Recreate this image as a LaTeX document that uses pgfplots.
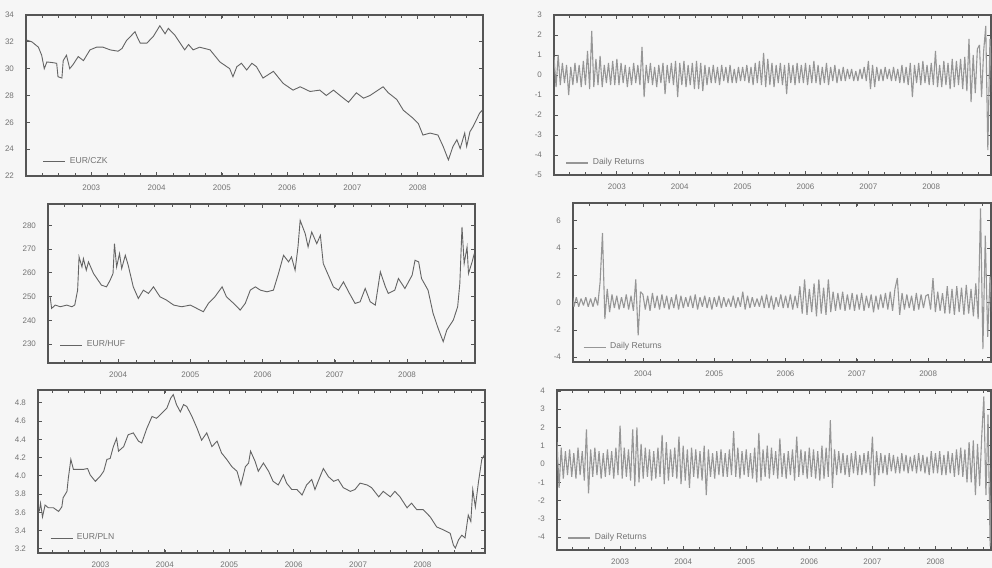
\documentclass[border=0pt]{standalone}
\usepackage{fontspec}
\setmainfont{Liberation Sans}
\usepackage{pgfplots}
\pgfplotsset{compat=1.18}

\definecolor{bgc}{RGB}{246,246,246}
\definecolor{axc}{RGB}{85,85,85}
\definecolor{lvl}{RGB}{100,100,100}
\definecolor{ret}{RGB}{150,150,150}
\definecolor{txtc}{RGB}{115,115,115}

\pgfplotsset{
  panel/.style={
    scale only axis,
    axis line style={axc, line width=0.7pt},
    tick style={axc, line width=0.4pt},
    major tick length=2.2pt,
    minor tick length=1.6pt,
    xtick={2003,...,2008},
    minor xtick={2002,2002.25,...,2009},
    tick label style={font=\fontsize{4}{4}\selectfont, text=txtc},
    yticklabel style={xshift=-2.5pt},
    xticklabel style={yshift=-1pt},
    /pgf/number format/assume math mode=true,
    x tick label style={/pgf/number format/1000 sep={}},
    legend style={draw=none, fill=none, font=\fontsize{4.3}{5}\selectfont,
      text=txtc, anchor=west, inner sep=0pt, outer sep=0pt},
    legend image code/.code={\draw[##1] (0pt,0pt) -- (11pt,0pt);},
    legend cell align=left,
  },
  lvlline/.style={lvl, line width=0.45pt, mark=none},
  retline/.style={ret, line width=0.55pt, mark=none, line join=bevel},
}

\begin{document}
\begin{tikzpicture}
\fill[bgc] (0,0) rectangle (496pt,284pt);
\path[use as bounding box] (0,0) rectangle (496pt,284pt);

% ---- EUR/CZK level
\begin{axis}[panel, at={(13pt,196pt)}, anchor=south west,
  width=228.5pt, height=80.5pt,
  xmin=2002, xmax=2009, ymin=22, ymax=34,
  ytick={22,24,...,34},
  legend style={at={(axis description cs:0.037,0.09)}}]
\addplot[lvlline] table {
2002.01 32.13
2002.09 32.0
2002.19 31.6
2002.24 31.0
2002.28 30.0
2002.32 30.5
2002.41 30.45
2002.47 30.4
2002.49 29.4
2002.55 29.3
2002.57 30.6
2002.62 31.0
2002.67 30.0
2002.72 30.3
2002.80 30.9
2002.88 30.6
2002.98 31.4
2003.08 31.6
2003.18 31.6
2003.29 31.4
2003.41 31.3
2003.47 31.5
2003.54 32.1
2003.67 32.75
2003.70 32.4
2003.75 31.9
2003.85 31.9
2003.95 32.4
2004.05 33.2
2004.13 32.6
2004.18 33.0
2004.28 32.5
2004.43 31.4
2004.49 31.8
2004.56 31.4
2004.66 31.6
2004.82 31.4
2004.97 30.5
2005.12 30.0
2005.17 29.4
2005.23 30.15
2005.30 30.4
2005.38 29.9
2005.46 30.4
2005.53 30.15
2005.63 29.3
2005.79 29.8
2005.94 28.9
2006.09 28.4
2006.20 28.65
2006.35 28.3
2006.50 28.4
2006.60 28.0
2006.71 28.4
2006.81 28.0
2006.94 27.5
2007.06 28.2
2007.17 27.8
2007.27 28.0
2007.47 28.65
2007.55 28.2
2007.68 27.7
2007.78 26.9
2007.93 26.3
2008.01 25.9
2008.08 25.05
2008.19 25.2
2008.31 25.05
2008.39 24.2
2008.47 23.2
2008.54 24.2
2008.60 24.7
2008.65 24.05
2008.72 25.2
2008.75 24.2
2008.80 25.3
2008.85 25.7
2008.95 26.7
2008.99 26.9
};
\addlegendentry{EUR/CZK}
\end{axis}

% ---- EUR/HUF level
\begin{axis}[panel, at={(24pt,102.5pt)}, anchor=south west,
  width=213.5pt, height=79.5pt,
  xmin=2003.03, xmax=2008.94, ymin=222, ymax=289,
  xtick={2004,...,2008},
  ytick={230,240,...,280},
  legend style={at={(axis description cs:0.028,0.113)}}]
\addplot[lvlline] table {
2003.06 249.9
2003.08 245.0
2003.13 246.4
2003.20 245.7
2003.29 246.4
2003.36 245.7
2003.40 246.4
2003.44 252.7
2003.46 266.7
2003.50 262.5
2003.52 266.0
2003.56 261.1
2003.59 264.6
2003.66 259.7
2003.77 254.8
2003.84 254.1
2003.89 256.9
2003.93 259.7
2003.95 272.3
2003.98 262.5
2004.02 268.1
2004.05 261.8
2004.10 267.4
2004.14 263.2
2004.21 254.1
2004.28 249.2
2004.35 252.7
2004.42 251.3
2004.49 254.1
2004.58 249.9
2004.67 248.5
2004.77 246.4
2004.88 245.7
2005.00 246.4
2005.09 245.0
2005.18 243.6
2005.25 247.1
2005.34 249.9
2005.44 254.1
2005.50 249.9
2005.60 247.1
2005.69 244.3
2005.76 247.1
2005.83 252.7
2005.90 254.1
2005.97 252.7
2006.06 252.0
2006.15 252.7
2006.22 259.7
2006.29 267.4
2006.36 264.6
2006.40 266.7
2006.45 261.1
2006.49 270.9
2006.52 282.1
2006.59 276.5
2006.63 270.9
2006.68 277.2
2006.75 272.3
2006.80 275.8
2006.84 263.9
2006.91 259.0
2006.98 254.1
2007.05 252.7
2007.12 256.2
2007.19 252.0
2007.28 247.1
2007.35 247.8
2007.42 253.4
2007.49 247.8
2007.56 246.4
2007.63 260.4
2007.70 254.1
2007.74 251.3
2007.83 252.7
2007.88 257.6
2007.97 253.4
2008.07 259.0
2008.11 265.3
2008.16 264.6
2008.20 257.6
2008.29 252.7
2008.36 242.9
2008.43 236.6
2008.50 231.0
2008.55 235.9
2008.64 240.1
2008.70 245.7
2008.73 255.5
2008.76 279.3
2008.79 263.9
2008.83 270.9
2008.85 259.7
2008.90 264.6
2008.93 268.1
};
\addlegendentry{EUR/HUF}
\end{axis}

% ---- EUR/PLN level
\begin{axis}[panel, at={(19pt,7.5pt)}, anchor=south west,
  width=223.5pt, height=81.5pt,
  xmin=2002.03, xmax=2008.97, ymin=3.155, ymax=4.94,
  ytick={3.2,3.4,3.6,3.8,4.0,4.2,4.4,4.6,4.8},
  y tick label style={/pgf/number format/.cd, fixed, fixed zerofill, precision=1},
  legend style={at={(axis description cs:0.027,0.092)}}]
\addplot[lvlline] table {
2002.05 3.61
2002.07 3.70
2002.10 3.55
2002.14 3.68
2002.19 3.65
2002.27 3.65
2002.35 3.61
2002.40 3.66
2002.42 3.76
2002.48 3.83
2002.50 3.97
2002.54 4.18
2002.58 4.07
2002.66 4.07
2002.73 4.07
2002.80 4.08
2002.84 4.01
2002.92 3.94
2002.99 3.99
2003.05 4.05
2003.10 4.18
2003.15 4.19
2003.20 4.32
2003.25 4.41
2003.28 4.27
2003.36 4.32
2003.43 4.45
2003.51 4.47
2003.59 4.38
2003.64 4.36
2003.72 4.52
2003.80 4.65
2003.87 4.63
2003.93 4.67
2004.03 4.74
2004.09 4.85
2004.13 4.89
2004.18 4.78
2004.24 4.70
2004.29 4.78
2004.34 4.76
2004.42 4.65
2004.50 4.52
2004.57 4.39
2004.65 4.47
2004.73 4.32
2004.81 4.38
2004.88 4.25
2004.96 4.18
2005.04 4.10
2005.12 4.05
2005.18 3.90
2005.25 4.10
2005.30 4.14
2005.33 4.27
2005.40 4.16
2005.45 4.05
2005.53 4.14
2005.61 4.05
2005.68 3.94
2005.76 3.90
2005.84 4.01
2005.89 3.92
2005.97 3.85
2006.05 3.85
2006.13 3.79
2006.20 3.90
2006.28 3.96
2006.33 3.85
2006.38 3.94
2006.46 4.08
2006.54 3.99
2006.62 3.94
2006.69 3.96
2006.77 3.87
2006.88 3.83
2006.95 3.85
2007.03 3.92
2007.14 3.90
2007.21 3.87
2007.32 3.77
2007.39 3.83
2007.50 3.77
2007.57 3.83
2007.65 3.77
2007.76 3.65
2007.83 3.70
2007.91 3.63
2008.01 3.63
2008.12 3.55
2008.22 3.44
2008.32 3.41
2008.43 3.37
2008.48 3.24
2008.51 3.21
2008.56 3.30
2008.61 3.35
2008.66 3.32
2008.71 3.57
2008.75 3.50
2008.78 3.85
2008.82 3.66
2008.87 3.94
2008.92 4.18
2008.96 4.23
};
\addlegendentry{EUR/PLN}
\end{axis}

% ---- EUR/CZK daily returns
\begin{axis}[panel, at={(277pt,196.5pt)}, anchor=south west,
  width=218.5pt, height=80pt,
  xmin=2002, xmax=2008.95, ymin=-5, ymax=3,
  ytick={-5,-4,...,3},
  legend style={at={(axis description cs:0.027,0.075)}}]
\addplot[retline] table[header=false, row sep=\\, x expr=2002+\coordindex/30, y index=0] {
0.9\\-0.6\\1.0\\-0.5\\0.6\\-0.4\\0.5\\-1.0\\0.4\\-0.5\\0.6\\-0.4\\0.5\\-0.6\\0.7\\-0.5\\1.2\\-0.7\\2.2\\-0.6\\0.8\\-0.5\\0.95\\-0.6\\0.5\\-0.4\\0.6\\-0.5\\0.7\\-0.5\\
0.8\\-0.5\\0.6\\-0.4\\0.5\\-0.6\\0.4\\-0.5\\0.6\\-0.4\\0.5\\-0.5\\1.4\\-1.1\\0.5\\-0.4\\0.6\\-0.5\\0.4\\-0.6\\0.5\\-0.4\\0.6\\-0.95\\0.5\\-0.4\\0.6\\-0.5\\0.7\\-1.1\\
0.6\\-0.5\\0.7\\-0.6\\0.5\\-0.5\\0.6\\-0.7\\0.7\\-0.7\\0.6\\-0.8\\0.5\\-0.5\\0.4\\-0.4\\0.5\\-0.4\\0.4\\-0.5\\0.5\\-0.3\\0.4\\-0.4\\0.5\\-0.4\\0.3\\-0.4\\0.4\\-0.3\\
0.4\\-0.3\\0.5\\-0.4\\0.4\\-0.5\\0.6\\-0.4\\0.7\\-0.5\\1.1\\-0.6\\0.8\\-0.5\\0.6\\-0.6\\0.5\\-0.4\\0.6\\-0.5\\0.5\\-0.95\\0.6\\-0.4\\0.5\\-0.5\\0.6\\-0.4\\0.5\\-0.4\\
0.6\\-0.5\\0.5\\-0.4\\0.7\\-0.4\\0.5\\-0.5\\0.4\\-0.4\\0.6\\-0.5\\0.4\\-0.3\\0.5\\-0.4\\0.3\\-0.3\\0.4\\-0.3\\0.3\\-0.2\\0.3\\-0.3\\0.2\\-0.3\\0.3\\-0.2\\0.4\\-0.3\\
0.7\\-0.7\\0.5\\-0.6\\0.4\\-0.3\\0.3\\-0.3\\0.4\\-0.2\\0.3\\-0.3\\0.4\\-0.3\\0.3\\-0.4\\0.5\\-0.4\\0.4\\-0.5\\0.6\\-1.1\\0.5\\-0.4\\0.6\\-0.5\\0.7\\-0.4\\0.5\\-0.5\\
0.6\\-0.5\\1.2\\-0.6\\0.5\\-0.6\\0.7\\-0.5\\0.6\\-0.7\\0.8\\-0.6\\0.7\\-0.5\\0.8\\-0.7\\0.9\\-0.8\\1.8\\-1.35\\1.0\\-0.9\\1.3\\1.5\\-1.1\\1.2\\2.45\\-3.75\\1.8\\-1.2\\0.8\\
};
\addlegendentry{Daily Returns}
\end{axis}

% ---- EUR/HUF daily returns
\begin{axis}[panel, at={(286.5pt,103pt)}, anchor=south west,
  width=209pt, height=79.5pt,
  xmin=2003.02, xmax=2008.88, ymin=-4.35, ymax=7.3,
  xtick={2004,...,2008},
  ytick={-4,-2,...,6},
  legend style={at={(axis description cs:0.024,0.094)}}]
\addplot[retline] table[header=false, row sep=\\, x expr=2003+\coordindex/30, y index=0] {
0.9\\-0.3\\0.4\\-0.3\\0.3\\-0.2\\0.4\\-0.3\\0.3\\-0.3\\0.4\\-0.2\\1.5\\5.1\\-1.2\\1.0\\-0.7\\0.6\\-0.4\\0.5\\-0.5\\0.4\\-0.4\\0.6\\-0.5\\0.5\\-0.6\\1.7\\-2.4\\0.8\\
0.6\\-0.5\\0.5\\-0.6\\0.7\\-0.4\\0.5\\-0.5\\0.6\\-0.4\\0.5\\-0.5\\0.4\\-0.4\\0.6\\-0.5\\0.5\\-0.4\\0.4\\-0.3\\0.5\\-0.4\\0.6\\-0.5\\0.4\\-0.3\\0.5\\-0.4\\0.4\\-0.5\\
0.4\\-0.3\\0.5\\-0.4\\0.4\\-0.3\\0.3\\-0.3\\0.5\\-0.4\\0.4\\-0.3\\0.8\\-0.5\\0.5\\-0.4\\0.4\\-0.3\\0.3\\-0.3\\0.5\\-0.4\\0.6\\-0.4\\0.5\\-0.5\\0.4\\-0.3\\0.6\\-0.4\\
0.5\\-0.4\\0.6\\-0.5\\0.5\\-0.4\\1.2\\-0.8\\1.7\\-0.9\\1.0\\-0.7\\1.4\\-1.0\\1.7\\-0.8\\1.1\\-0.9\\1.7\\-0.7\\0.8\\-0.6\\0.7\\-0.5\\0.8\\-0.6\\0.6\\-0.5\\0.7\\-0.6\\
0.6\\-0.5\\0.7\\-0.6\\0.5\\-0.4\\0.6\\-0.7\\0.5\\-0.5\\0.6\\-0.4\\0.7\\-0.5\\0.8\\-0.6\\1.0\\1.8\\-0.9\\0.7\\-0.5\\0.6\\-0.4\\0.5\\-0.6\\0.7\\-0.5\\0.6\\-0.4\\0.5\\
0.6\\-0.5\\1.8\\-0.7\\0.8\\-0.6\\0.7\\-0.8\\1.2\\-0.8\\1.0\\-0.9\\1.2\\-0.7\\1.1\\-0.9\\1.3\\-0.8\\1.0\\-1.0\\1.4\\-1.2\\6.9\\-3.4\\4.9\\-2.5\\1.9\\-1.6\\1.5\\-1.3\\1.2\\
};
\addlegendentry{Daily Returns}
\end{axis}

% ---- EUR/PLN daily returns
\begin{axis}[panel, at={(278.5pt,9pt)}, anchor=south west,
  width=217pt, height=80pt,
  xmin=2002, xmax=2008.88, ymin=-4.7, ymax=4.05,
  ytick={-4,-3,...,4},
  legend style={at={(axis description cs:0.025,0.075)}}]
\addplot[retline] table[header=false, row sep=\\, x expr=2002+\coordindex/30, y index=0] {
1.2\\-1.3\\0.9\\-0.8\\0.7\\-0.6\\0.8\\-0.7\\0.6\\-0.8\\0.9\\-0.6\\0.7\\-0.9\\1.9\\-1.6\\0.8\\-0.7\\0.9\\-0.6\\0.7\\-0.8\\0.6\\-0.7\\0.8\\-0.6\\0.7\\-0.8\\0.9\\-0.6\\
2.1\\-0.8\\0.9\\-0.7\\0.8\\-0.9\\1.9\\-1.2\\2.0\\-1.0\\1.1\\-0.8\\0.9\\-0.7\\0.8\\-0.9\\0.7\\-0.8\\0.9\\-0.7\\1.6\\-1.1\\1.2\\-0.9\\0.8\\-0.7\\0.9\\-0.8\\1.5\\-1.1\\
1.0\\-0.9\\0.8\\-1.3\\0.9\\-0.7\\0.8\\-0.8\\0.7\\-0.9\\1.0\\-1.7\\0.8\\-0.7\\0.6\\-0.8\\0.7\\-0.6\\0.8\\-0.7\\0.6\\-0.7\\0.8\\-0.6\\1.8\\-0.7\\0.9\\-0.8\\0.7\\-0.6\\
0.8\\-0.7\\0.6\\-0.8\\0.9\\-1.0\\1.7\\-0.9\\0.8\\-0.7\\1.0\\-0.8\\0.9\\-0.6\\0.7\\-0.8\\1.4\\-0.7\\0.6\\-0.8\\0.7\\-0.6\\0.8\\-0.9\\1.5\\-0.7\\0.8\\-0.6\\0.7\\-0.8\\
0.9\\-0.7\\0.8\\-0.8\\0.7\\-0.9\\1.0\\-0.8\\0.9\\-0.7\\2.4\\-1.3\\0.8\\-0.6\\0.7\\-0.5\\0.6\\-0.6\\0.5\\-0.7\\0.6\\-0.5\\0.7\\-0.6\\0.5\\-0.6\\0.6\\-0.5\\0.7\\-0.6\\
1.5\\-1.2\\0.7\\-0.6\\0.6\\-0.5\\0.5\\-0.6\\0.6\\-0.4\\0.5\\-0.5\\0.4\\-0.5\\0.6\\-0.4\\0.5\\-0.5\\0.4\\-0.4\\0.5\\-0.5\\0.6\\-0.4\\0.5\\-0.5\\0.4\\-0.6\\0.7\\-0.5\\
0.6\\-0.5\\0.7\\-0.6\\0.5\\-0.6\\0.7\\-0.5\\0.6\\-0.7\\0.8\\-0.6\\0.9\\-0.7\\0.8\\-1.0\\1.2\\-1.0\\1.3\\-1.7\\1.1\\-1.2\\1.5\\3.7\\-1.7\\2.7\\-4.5\\1.9\\-1.6\\1.4\\0.9\\
};
\addlegendentry{Daily Returns}
\end{axis}
\end{tikzpicture}
\end{document}
